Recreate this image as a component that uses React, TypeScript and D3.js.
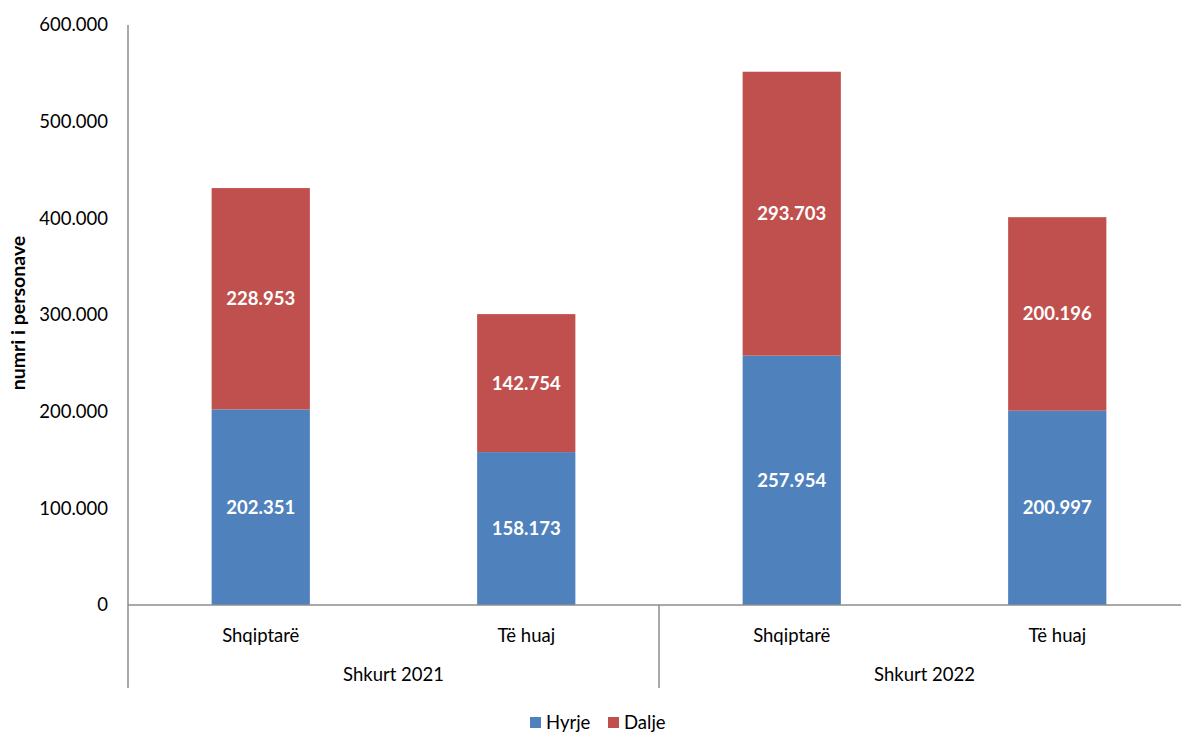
import * as d3 from "d3";

const W = 1181;
const H = 733;

const categories = ["Shqiptarë", "Të huaj", "Shqiptarë", "Të huaj"];
const groups = ["Shkurt 2021", "Shkurt 2022"];
const hyrje = [202351, 158173, 257954, 200997];
const dalje = [228953, 142754, 293703, 200196];
const seriesNames = ["Hyrje", "Dalje"];
const colors = ["#4F81BD", "#C0504D"];
const yTicks = [0, 100000, 200000, 300000, 400000, 500000, 600000];

const font = "Lato, 'Open Sans', sans-serif";
const fs = 18.5;
const fmt = (v: number) => d3.format(",")(v).replace(/,/g, ".");

export default function App() {
  const left = 128;
  const right = 1190;
  const top = 25;
  const bottom = 605;
  const axisEnd = 688;

  const ids = categories.map((_, i) => String(i));
  const x = d3.scaleBand().domain(ids).range([left, right]).paddingInner(0.63).paddingOuter(0.315);
  const y = d3.scaleLinear().domain([0, 600000]).range([bottom, top]);

  const stackData = categories.map((_, i) => ({ Hyrje: hyrje[i], Dalje: dalje[i] }));
  const stacked = d3.stack<any>().keys(seriesNames)(stackData);
  const step = x.step();

  return (
    <svg width={W} height={H} style={{ position: "absolute", left: 0, top: 0, background: "#fff" }}>
      {/* y ticks */}
      {yTicks.map((t) => (
        <text key={t} x={108} y={y(t)} dy="0.35em" textAnchor="end" fontFamily={font} fontSize={fs} fill="#000">
          {t === 0 ? "0" : fmt(t)}
        </text>
      ))}
      <text
        transform={`translate(25,313) rotate(-90)`}
        textAnchor="middle"
        fontFamily={font}
        fontSize={19.5}
        fontWeight="bold"
      >
        numri i personave
      </text>

      {/* bars */}
      {stacked.map((s, si) =>
        s.map((d, i) => (
          <rect
            key={`${si}-${i}`}
            x={x(String(i))}
            y={y(d[1])}
            width={x.bandwidth()}
            height={y(d[0]) - y(d[1])}
            fill={colors[si]}
          />
        ))
      )}
      {stacked.map((s, si) =>
        s.map((d, i) => (
          <text
            key={`l${si}-${i}`}
            x={(x(String(i)) as number) + x.bandwidth() / 2}
            y={(y(d[0]) + y(d[1])) / 2}
            dy="0.35em"
            textAnchor="middle"
            fontFamily={font}
            fontSize={fs}
            fontWeight="bold"
            fill="#fff"
          >
            {fmt(d[1] - d[0])}
          </text>
        ))
      )}

      {/* axes */}
      <line x1={left} x2={left} y1={top} y2={axisEnd} stroke="#8c8c8c" strokeWidth={1.5} />
      <line x1={left} x2={W} y1={bottom} y2={bottom} stroke="#8c8c8c" strokeWidth={1.5} />
      <line x1={left + 2 * step} x2={left + 2 * step} y1={bottom} y2={axisEnd} stroke="#8c8c8c" strokeWidth={1.5} />

      {categories.map((c, i) => (
        <text
          key={`c${i}`}
          x={(x(String(i)) as number) + x.bandwidth() / 2}
          y={636}
          dy="0.35em"
          textAnchor="middle"
          fontFamily={font}
          fontSize={fs}
        >
          {c}
        </text>
      ))}
      {groups.map((g, gi) => (
        <text
          key={g}
          x={left + step * (gi * 2 + 1)}
          y={675}
          dy="0.35em"
          textAnchor="middle"
          fontFamily={font}
          fontSize={fs}
        >
          {g}
        </text>
      ))}

      {/* legend */}
      {seriesNames.map((n, i) => {
        const lx = [530, 608][i];
        return (
          <g key={n}>
            <rect x={lx} y={717} width={11} height={11} fill={colors[i]} />
            <text x={lx + 16} y={723} dy="0.35em" fontFamily={font} fontSize={fs}>
              {n}
            </text>
          </g>
        );
      })}
    </svg>
  );
}
